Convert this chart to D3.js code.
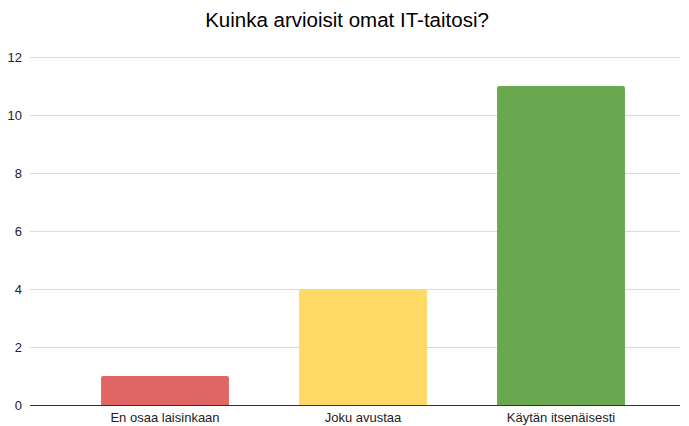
<!DOCTYPE html>
<html>
<head>
<meta charset="utf-8">
<script src="https://cdn.jsdelivr.net/npm/d3@7"></script>
<style>
  html, body { margin: 0; padding: 0; background: #fff; }
  svg { display: block; font-family: "Liberation Sans", Arial, Helvetica, sans-serif; }
</style>
</head>
<body>
<svg id="chart" width="689" height="426"></svg>
<script>
const categories = ["En osaa laisinkaan", "Joku avustaa", "Käytän itsenäisesti"];
const values = [1, 4, 11];
const colors = ["#e06666", "#ffd966", "#6aa84f"];
const yTicks = [0, 2, 4, 6, 8, 10, 12];
const title = "Kuinka arvioisit omat IT-taitosi?";

const svg = d3.select("#chart");
const plot = { left: 30, right: 680, top: 57, bottom: 405 };

const x = d3.scaleBand()
  .domain(categories)
  .range([66, 660])
  .paddingInner(0.354)
  .paddingOuter(0.177);

const y = d3.scaleLinear()
  .domain([0, 12])
  .range([plot.bottom, plot.top]);

// title
svg.append("text")
  .attr("x", 347)
  .attr("y", 27)
  .attr("text-anchor", "middle")
  .attr("font-size", 20.5)
  .attr("fill", "#000")
  .text(title);

// horizontal gridlines
svg.append("g")
  .selectAll("line")
  .data(yTicks.filter(d => d !== 0))
  .join("line")
  .attr("x1", plot.left)
  .attr("x2", plot.right)
  .attr("y1", d => y(d) + 0.5)
  .attr("y2", d => y(d) + 0.5)
  .attr("stroke", "#dadada")
  .attr("stroke-width", 1);

// y axis labels
const yAxis = d3.axisLeft(y).tickValues(yTicks).tickSize(0).tickPadding(0);
const gy = svg.append("g")
  .attr("transform", `translate(22,0)`)
  .call(yAxis);
gy.select(".domain").remove();
gy.selectAll("text")
  .attr("font-size", 13)
  .attr("font-family", "'Liberation Sans', Arial, sans-serif")
  .attr("fill", "#222");

// bars with small rounded top corners
function barPath(x0, w, yTop, yBase, r) {
  return `M${x0},${yBase}V${yTop + r}Q${x0},${yTop} ${x0 + r},${yTop}` +
         `H${x0 + w - r}Q${x0 + w},${yTop} ${x0 + w},${yTop + r}V${yBase}Z`;
}
svg.append("g")
  .selectAll("path")
  .data(categories)
  .join("path")
  .attr("d", (c, i) => barPath(x(c), x.bandwidth(), y(values[i]), y(0), 2))
  .attr("fill", (c, i) => colors[i]);

// baseline
svg.append("line")
  .attr("x1", plot.left)
  .attr("x2", plot.right)
  .attr("y1", y(0) + 0.5)
  .attr("y2", y(0) + 0.5)
  .attr("stroke", "#333")
  .attr("stroke-width", 1);

// x axis labels
const xAxis = d3.axisBottom(x).tickSize(0).tickPadding(0);
const gx = svg.append("g")
  .attr("transform", `translate(0,${y(0) + 8})`)
  .call(xAxis);
gx.select(".domain").remove();
gx.selectAll("text")
  .attr("font-size", 13)
  .attr("font-family", "'Liberation Sans', Arial, sans-serif")
  .attr("fill", "#222");
</script>
</body>
</html>
